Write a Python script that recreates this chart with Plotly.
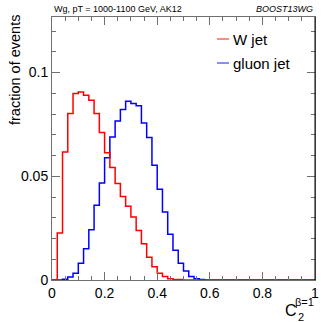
import plotly.graph_objects as go

# bin edges 0..1 in steps of 0.02 (50 bins)
bin_edges = [round(i * 0.02, 2) for i in range(51)]

w_jet = [0.0, 0.0226, 0.0617, 0.0803, 0.0899, 0.0907, 0.0891, 0.0867, 0.0803, 0.0711,
         0.0613, 0.0542, 0.0465, 0.0403, 0.0355, 0.0304, 0.0239, 0.0175, 0.0110, 0.0064,
         0.0033, 0.0017, 0.0006, 0.0003, 0.0002, 0.0, 0.0, 0.0, 0.0, 0.0,
         0.0, 0.0, 0.0, 0.0, 0.0, 0.0, 0.0, 0.0, 0.0, 0.0,
         0.0, 0.0, 0.0, 0.0, 0.0, 0.0, 0.0, 0.0, 0.0, 0.0]

gluon_jet = [0.0, 0.0, 0.0004, 0.0014, 0.0033, 0.0081, 0.0151, 0.0242, 0.0360, 0.0468,
             0.0590, 0.0690, 0.0767, 0.0822, 0.0862, 0.0851, 0.0840, 0.0757, 0.0687, 0.0553,
             0.0437, 0.0328, 0.0220, 0.0143, 0.0081, 0.0043, 0.0017, 0.0006, 0.0003, 0.0,
             0.0, 0.0, 0.0, 0.0, 0.0, 0.0, 0.0, 0.0, 0.0, 0.0,
             0.0, 0.0, 0.0, 0.0, 0.0, 0.0, 0.0, 0.0, 0.0, 0.0]

series_names = ["W jet", "gluon jet"]
series_colors = ["#ff0000", "#0000ff"]

x_ticks = [0, 0.2, 0.4, 0.6, 0.8, 1]
y_ticks = [0, 0.05, 0.1]

FONT = "Liberation Sans, Arial, Helvetica, sans-serif"

fig = go.Figure()
for vals, name, col in [(gluon_jet, series_names[1], series_colors[1]),
                        (w_jet, series_names[0], series_colors[0])]:
    fig.add_trace(go.Scatter(
        x=bin_edges, y=vals + [vals[-1]], mode="lines", line_shape="hv",
        line=dict(color=col, width=1.5), name=name, showlegend=False,
        hoverinfo="skip"))

axcol = "#707070"
common = dict(showgrid=False, zeroline=False, showline=True, linecolor=axcol, linewidth=1,
              mirror="allticks", ticks="inside", tickcolor=axcol, tickwidth=1,
              automargin=False,
              tickfont=dict(family=FONT, size=14, color="black"))

fig.update_xaxes(range=[0, 1], tickvals=x_ticks, ticktext=[f"{v:g}" for v in x_ticks],
                 ticklen=8, minor=dict(dtick=0.05, ticklen=4, ticks="inside", tickcolor=axcol),
                 **common)
fig.update_yaxes(range=[0, 0.1268], tickvals=y_ticks, ticktext=[f"{v:g}" for v in y_ticks],
                 ticklen=8, minor=dict(dtick=0.01, ticklen=4, ticks="inside", tickcolor=axcol),
                 **common)

W, H = 332, 322
L, R, T, B = 52, 17, 17, 42
pw, ph = W - L - R, H - T - B

def px(xp):
    return (xp - L) / pw

def py(yp):
    return (H - B - yp) / ph

ann = []
ann.append(dict(text="fraction of events", x=px(15), y=py(70), xref="paper", yref="paper",
                textangle=-90, showarrow=False, xanchor="center", yanchor="middle",
                font=dict(family=FONT, size=14.5, color="black")))
ann.append(dict(text="Wg, pT = 1000-1100 GeV, AK12", x=0, y=py(9), xref="paper", yref="paper",
                showarrow=False, xanchor="left", yanchor="middle",
                font=dict(family=FONT, size=9, color="black")))
ann.append(dict(text="<i>BOOST13WG</i>", x=1, y=py(9), xref="paper", yref="paper",
                showarrow=False, xanchor="right", yanchor="middle",
                font=dict(family=FONT, size=9, color="black")))
# x-axis title C_2^{beta=1}
ann.append(dict(text="C", x=px(291), y=py(310), xref="paper", yref="paper", showarrow=False,
                xanchor="center", yanchor="middle", font=dict(family=FONT, size=16, color="black")))
ann.append(dict(text="2", x=px(300.5), y=py(317), xref="paper", yref="paper", showarrow=False,
                xanchor="center", yanchor="middle", font=dict(family=FONT, size=11, color="black")))
ann.append(dict(text="β=1", x=px(315.5), y=py(301.5), xref="paper", yref="paper", showarrow=False,
                xanchor="right", yanchor="middle", font=dict(family=FONT, size=11, color="black")))

shapes = []
for i, (name, col) in enumerate(zip(series_names, series_colors)):
    yy = py(39 + 24 * i)
    shapes.append(dict(type="line", xref="paper", yref="paper", x0=px(217), x1=px(229),
                       y0=yy, y1=yy, line=dict(color=col, width=1.5), opacity=0.6))
    ann.append(dict(text=name, x=px(231), y=yy, xref="paper", yref="paper", showarrow=False,
                    xanchor="left", yanchor="middle",
                    font=dict(family=FONT, size=15, color="black")))
shapes.append(dict(type="line", xref="paper", yref="paper", x0=1, x1=1, y0=0, y1=1,
                   line=dict(color="black", width=1)))

fig.update_layout(width=W, height=H, margin=dict(l=L, r=R, t=T, b=B),
                  paper_bgcolor="white", plot_bgcolor="white",
                  annotations=ann, shapes=shapes, showlegend=False,
                  font=dict(family=FONT))

fig.write_html("out.html", config={"displayModeBar": False},
               post_script="document.body.style.margin='0';document.body.style.overflow='hidden';")
